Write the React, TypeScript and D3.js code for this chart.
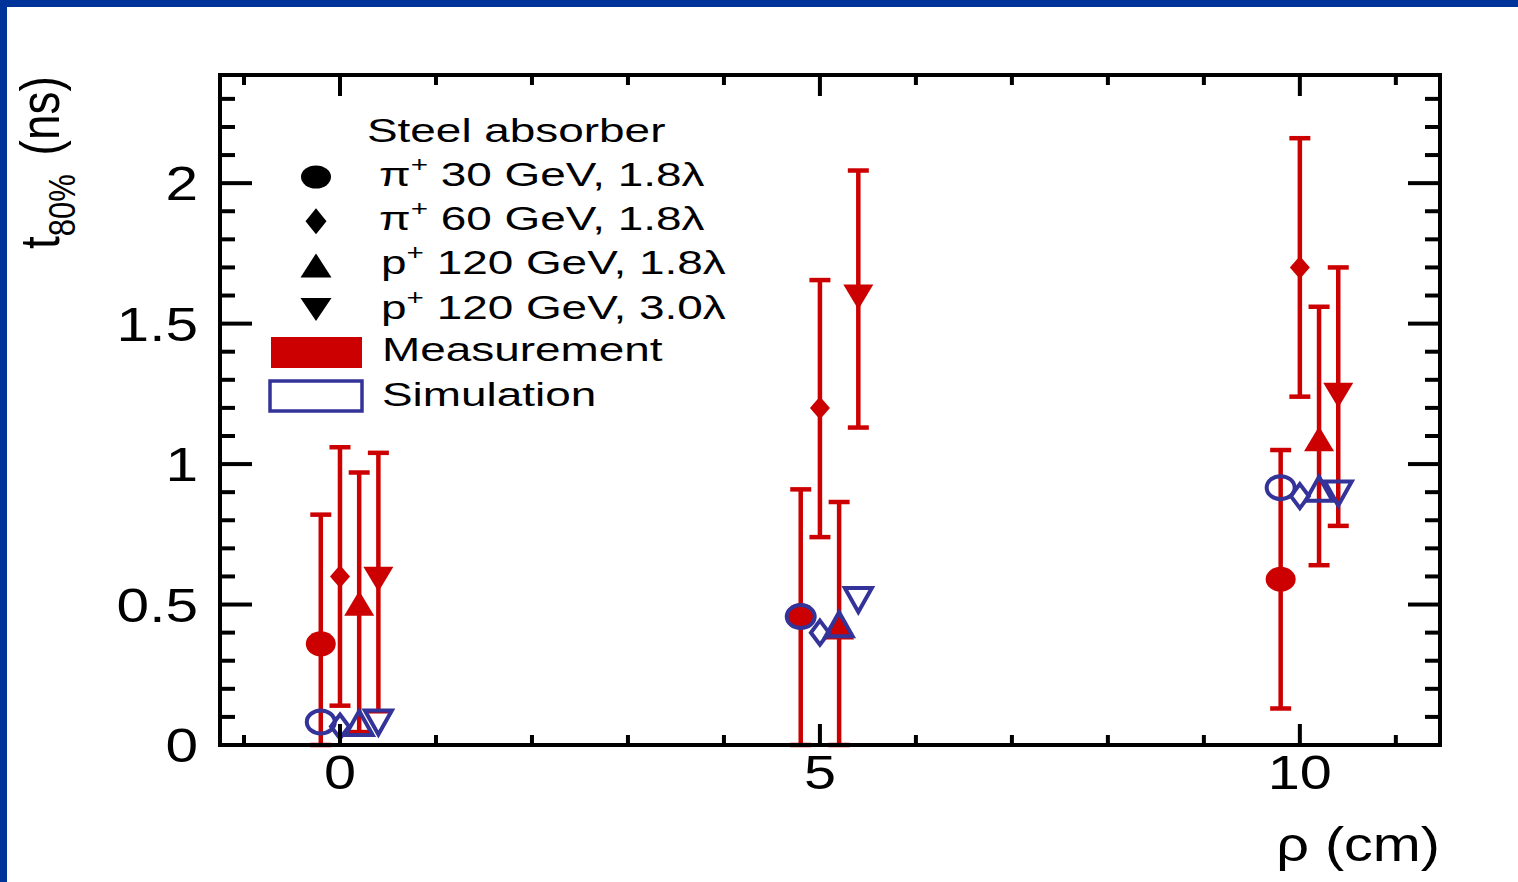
import * as d3 from "d3";

// rho positions (cm), each series shifted a little so the points don't overlap
const pi30X = [-0.2, 4.8, 9.8];
const pi60X = [0, 5, 10];
const p120X = [0.2, 5.2, 10.2];
const p120LX = [0.4, 5.4, 10.4];

// measurement: value, lower and upper error bar ends (ns)
const pi30Meas = [0.36, 0.46, 0.59];
const pi30Lo = [0, 0, 0.13];
const pi30Hi = [0.82, 0.91, 1.05];
const pi60Meas = [0.6, 1.2, 1.7];
const pi60Lo = [0.14, 0.74, 1.24];
const pi60Hi = [1.06, 1.655, 2.16];
const p120Meas = [0.505, 0.42, 1.09];
const p120Lo = [0.046, 0, 0.64];
const p120Hi = [0.97, 0.865, 1.56];
const p120LMeas = [0.59, 1.595, 1.245];
const p120LLo = [0.12, 1.13, 0.78];
const p120LHi = [1.04, 2.045, 1.7];

// simulation
const pi30Sim = [0.082, 0.457, 0.916];
const pi60Sim = [0.066, 0.4, 0.886];
const p120Sim = [0.078, 0.43, 0.912];
const p120LSim = [0.08, 0.516, 0.895];

const xMajor = [0, 5, 10];
const xMinor = d3.range(-1, 12, 1);
const yMajor = [0, 0.5, 1, 1.5, 2];
const yMinor = d3.range(0, 2.4, 0.1);
const yLabels = ["0", "0.5", "1", "1.5", "2"];

const legendRows = [
  { shape: "circle", pre: "\u03c0", rest: " 30 GeV, 1.8\u03bb" },
  { shape: "diamond", pre: "\u03c0", rest: " 60 GeV, 1.8\u03bb" },
  { shape: "up", pre: "p", rest: " 120 GeV, 1.8\u03bb" },
  { shape: "down", pre: "p", rest: " 120 GeV, 3.0\u03bb" },
];

const RED = "#cc0000";
const BLUE = "#333399";
const FONT = "'Liberation Sans', Arial, Helvetica, sans-serif";

const W = 1518;
const H = 882;
const left = 220, right = 1440, top = 75, bottom = 745;

const x = d3.scaleLinear().domain([-1.25, 11.46]).range([left, right]);
const y = d3.scaleLinear().domain([0, 2.385]).range([bottom, top]);

const diamond = (cx: number, cy: number, w: number, h: number) =>
  `M${cx},${cy - h / 2}L${cx + w / 2},${cy}L${cx},${cy + h / 2}L${cx - w / 2},${cy}Z`;
const triUp = (cx: number, cy: number, w: number, h: number) =>
  `M${cx},${cy - h / 2}L${cx + w / 2},${cy + h / 2}L${cx - w / 2},${cy + h / 2}Z`;
const triDown = (cx: number, cy: number, w: number, h: number) =>
  `M${cx},${cy + h / 2}L${cx + w / 2},${cy - h / 2}L${cx - w / 2},${cy - h / 2}Z`;

function Marker({ shape, cx, cy, fill, stroke, open }: any) {
  const sw = open ? 4 : 0;
  if (shape === "circle") {
    return (
      <ellipse
        cx={cx}
        cy={cy}
        rx={open ? 14 : 15}
        ry={open ? 11.5 : 12.5}
        fill={open ? "none" : fill}
        stroke={open ? stroke : "none"}
        strokeWidth={sw}
      />
    );
  }
  let d = "";
  if (shape === "diamond") d = open ? diamond(cx, cy, 18, 24) : diamond(cx, cy, 20, 23);
  if (shape === "up") d = open ? triUp(cx, cy, 27, 24) : triUp(cx, cy, 30, 25);
  if (shape === "down") d = open ? triDown(cx, cy, 27, 24) : triDown(cx, cy, 30, 25);
  return (
    <path
      d={d}
      fill={open ? "none" : fill}
      stroke={open ? stroke : "none"}
      strokeWidth={sw}
      strokeLinejoin="miter"
    />
  );
}

const series = [
  { shape: "circle", xs: pi30X, meas: pi30Meas, lo: pi30Lo, hi: pi30Hi, sim: pi30Sim },
  { shape: "diamond", xs: pi60X, meas: pi60Meas, lo: pi60Lo, hi: pi60Hi, sim: pi60Sim },
  { shape: "up", xs: p120X, meas: p120Meas, lo: p120Lo, hi: p120Hi, sim: p120Sim },
  { shape: "down", xs: p120LX, meas: p120LMeas, lo: p120LLo, hi: p120LHi, sim: p120LSim },
];

export default function App() {
  const capW = 10.5;
  return (
    <div style={{ position: "absolute", left: 0, top: 0 }}>
      <svg width={W} height={H} style={{ display: "block", background: "#fff" }}>
        {/* slide border */}
        <rect x={0} y={0} width={W} height={7} fill="#003399" />
        <rect x={0} y={0} width={7} height={H} fill="#003399" />

        {/* error bars */}
        {series.map((s, si) =>
          s.xs.map((xv, i) => {
            const px = x(xv);
            return (
              <g key={`e${si}-${i}`} stroke={RED} strokeWidth={4.5}>
                <line x1={px} x2={px} y1={y(s.lo[i])} y2={y(s.hi[i])} />
                <line x1={px - capW} x2={px + capW} y1={y(s.lo[i])} y2={y(s.lo[i])} />
                <line x1={px - capW} x2={px + capW} y1={y(s.hi[i])} y2={y(s.hi[i])} />
              </g>
            );
          })
        )}
        {/* measurement markers */}
        {series.map((s, si) =>
          s.xs.map((xv, i) => (
            <Marker key={`m${si}-${i}`} shape={s.shape} cx={x(xv)} cy={y(s.meas[i])} fill={RED} />
          ))
        )}
        {/* simulation markers */}
        {series.map((s, si) =>
          s.xs.map((xv, i) => (
            <Marker key={`s${si}-${i}`} shape={s.shape} cx={x(xv)} cy={y(s.sim[i])} stroke={BLUE} open />
          ))
        )}

        {/* frame and ticks */}
        <g stroke="#000" strokeWidth={4} fill="none">
          {xMinor.map((t) => {
            const len = xMajor.includes(t) ? 21 : 10;
            return (
              <g key={`xt${t}`}>
                <line x1={x(t)} x2={x(t)} y1={bottom} y2={bottom - len} />
                <line x1={x(t)} x2={x(t)} y1={top} y2={top + len} />
              </g>
            );
          })}
          {yMinor.map((t, i) => {
            const len = i % 5 === 0 ? 32 : 15;
            return (
              <g key={`yt${i}`}>
                <line x1={left} x2={left + len} y1={y(t)} y2={y(t)} />
                <line x1={right} x2={right - len} y1={y(t)} y2={y(t)} />
              </g>
            );
          })}
          <rect x={left} y={top} width={right - left} height={bottom - top} />
        </g>

        {/* tick labels */}
        <g fontFamily={FONT} fontSize={48} fill="#000">
          {yMajor.map((t, i) => (
            <text
              key={`yl${t}`}
              transform={`translate(198,${y(t) + 17}) scale(1.22,1)`}
              textAnchor="end"
            >
              {yLabels[i]}
            </text>
          ))}
          {xMajor.map((t) => (
            <text
              key={`xl${t}`}
              transform={`translate(${x(t)},789) scale(1.2,1)`}
              textAnchor="middle"
            >
              {t}
            </text>
          ))}
          <text transform={`translate(${right},861) scale(1.2,1)`} textAnchor="end">
            {"\u03c1 (cm)"}
          </text>
        </g>

        {/* y title */}
        <text
          transform="translate(59,249) scale(1.2,1) rotate(-90)"
          fontFamily={FONT}
          fontSize={46}
          fill="#000"
        >
          t
          <tspan fontSize={31} dy={13}>80%</tspan>
          <tspan dy={-13} dx={6}> (ns)</tspan>
        </text>

        {/* legend */}
        <g fontFamily={FONT} fontSize={34} fill="#000">
          <text transform="translate(367,142) scale(1.35,1)">Steel absorber</text>
          {legendRows.map((r, i) => {
            const cy = 177 + i * 44.2;
            let mk;
            if (r.shape === "circle") mk = <ellipse cx={316} cy={cy} rx={15} ry={11.5} fill="#000" />;
            if (r.shape === "diamond") mk = <path d={diamond(316, cy, 21, 26)} fill="#000" />;
            if (r.shape === "up") mk = <path d={triUp(316, cy, 31, 24)} fill="#000" />;
            if (r.shape === "down") mk = <path d={triDown(316, cy, 31, 23)} fill="#000" />;
            return (
              <g key={`lg${i}`}>
                {mk}
                <text transform={`translate(${r.pre === "p" ? 381 : 379},${cy + 9}) scale(1.35,1)`}>
                  {r.pre}
                  <tspan fontSize={22} dy={-14}>+</tspan>
                  <tspan dy={14}>{r.rest}</tspan>
                </text>
              </g>
            );
          })}
          <rect x={271} y={337} width={91} height={31} fill={RED} />
          <text transform="translate(382,361) scale(1.35,1)">Measurement</text>
          <rect x={270} y={381} width={92} height={30} fill="none" stroke={BLUE} strokeWidth={3.5} />
          <text transform="translate(382,406) scale(1.35,1)">Simulation</text>
        </g>
      </svg>
    </div>
  );
}
